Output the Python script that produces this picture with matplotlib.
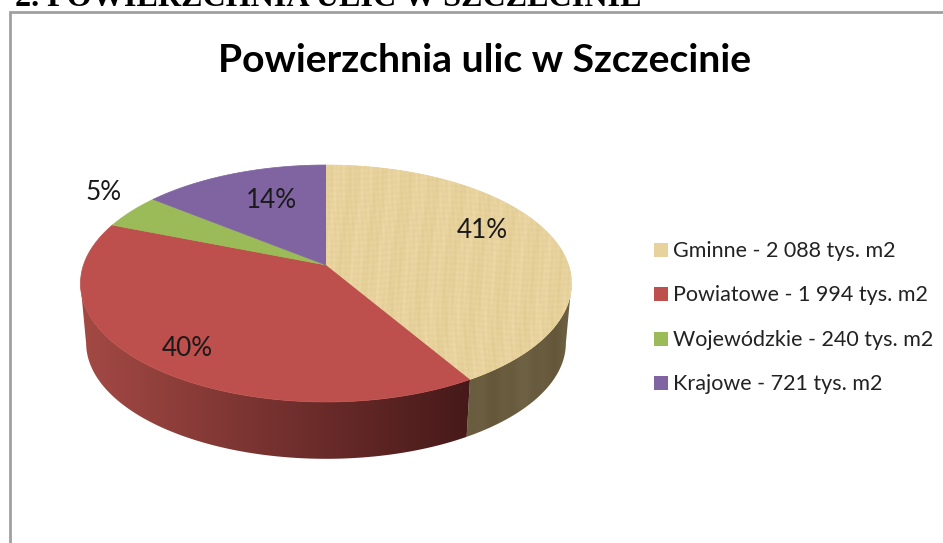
import numpy as np
import matplotlib
matplotlib.use("Agg")
from matplotlib import pyplot as plt
from matplotlib.patches import Polygon, Rectangle

W, H = 943, 543

categories = ["Gminne", "Powiatowe", "Wojewódzkie", "Krajowe"]
values = [2088, 1994, 240, 721]  # tys. m2
value_labels = ["2 088", "1 994", "240", "721"]
percent_labels = ["41%", "40%", "5%", "14%"]
colors = ["#E7D19C", "#BD4F4C", "#9BBB59", "#8064A2"]

title = "Powierzchnia ulic w Szczecinie"
header = "2. POWIERZCHNIA ULIC W SZCZECINIE"

# pie geometry in image pixels, perspective squeezes the far side
CX, CY = 326, 265
A, B, K = 242.5, 115.6, 0.156
DEPTH, SHRINK = 60, 0.977


def project(theta, scale=1.0, dy=0.0):
    # theta is clockwise from the top of the pie
    u, v = np.sin(theta), np.cos(theta)
    d = 1 + K * v
    return CX + scale * A * u / d, CY + dy - scale * B * v / d


def wall_shade(cat, x):
    # colour of the side wall at image column x
    if cat == 0:
        base = np.array([106, 92, 62])[None, :] + (3 * np.sin(x / 9.0) + 2 * np.sin(x / 3.3))[:, None]
        return np.clip(base, 0, 255) / 255
    left = np.array([163, 73, 68])
    right = np.array([70, 25, 25])
    t = np.clip((x - 85) / 385, 0, 1)[:, None]
    return (left + (right - left) * t) / 255


fig = plt.figure(figsize=(W / 100, H / 100), dpi=100)
ax = fig.add_axes([0, 0, 1, 1])
ax.set_xlim(0, W)
ax.set_ylim(H, 0)
ax.axis("off")

# outer chart frame
ax.add_patch(Rectangle((9.5, 12), W + 20, H + 20, fc="white", ec="#A0A0A0", lw=2))
ax.text(15, 6, header, family="Liberation Serif", weight="bold", fontsize=23.1,
        color="black", ha="left", va="baseline")

edges = 2 * np.pi * np.concatenate([[0], np.cumsum(values)]) / np.sum(values)

# side wall: a horizontal gradient clipped to the visible part of each slice
# cos(theta) = -K is where the projected rim is widest, so the wall edge is tangent there
for i in range(2):
    th = np.linspace(edges[i], edges[i + 1], 400)
    th = th[np.cos(th) < -K]
    xt, yt = project(th)
    xb, yb = project(th, SHRINK, DEPTH)
    pts = np.column_stack([np.r_[xt, xb[::-1]], np.r_[yt, yb[::-1]]])
    wall = Polygon(pts, closed=True, fc="none", ec="none", transform=ax.transData)
    ax.add_patch(wall)
    xs = np.arange(70, 580)
    grad = wall_shade(i, xs + 0.5)[None, :, :]
    im = ax.imshow(grad, extent=(70, 580, 470, 270), aspect="auto", zorder=2, interpolation="bilinear")
    im.set_clip_path(wall)

# top face
faces = []
for i in range(len(values)):
    th = np.linspace(edges[i], edges[i + 1], 200)
    x, y = project(th)
    pts = np.column_stack([np.r_[CX, x], np.r_[CY, y]])
    face = Polygon(pts, closed=True, fc=colors[i], ec=colors[i], lw=0.5, zorder=3)
    ax.add_patch(face)
    faces.append(face)

# papyrus look on the Gminne slice, fine woven fibres
gx, gy = np.meshgrid(np.arange(320, 580), np.arange(160, 390))
grain = (np.sin(gx * 1.37 + np.sin(gy / 23.0) * 3) * 0.35
         + np.sin(gx * 0.71 + np.sin(gy / 37.0) * 4) * 0.35
         + np.sin(gy * 1.13 + np.sin(gx / 31.0) * 3) * 0.3
         + np.sin(gx * 0.23 + gy * 0.03) * 0.4)
papyrus = np.array([231, 210, 157])[None, None, :] + (grain * 5)[:, :, None] * np.array([1, 1, 1.6])
im = ax.imshow(np.clip(papyrus, 0, 255) / 255, extent=(320, 580, 390, 160), zorder=4,
               aspect="auto", interpolation="bilinear")
im.set_clip_path(faces[0])
ax.set_xlim(0, W)
ax.set_ylim(H, 0)

ax.text(482, 231, percent_labels[0], family="Lato", fontsize=18.8, ha="center", va="center", color="#1A1A1A", zorder=6)
ax.text(187, 349, percent_labels[1], family="Lato", fontsize=18.8, ha="center", va="center", color="#1A1A1A", zorder=6)
ax.text(103.5, 193, percent_labels[2], family="Lato", fontsize=18.8, ha="center", va="center", color="#1A1A1A", zorder=6)
ax.text(271, 201, percent_labels[3], family="Lato", fontsize=18.8, ha="center", va="center", color="#1A1A1A", zorder=6)

ax.text(485, 61, title, family="Lato", weight="bold", fontsize=28.2, ha="center", va="center", color="black", zorder=6)

# legend
leg_y = [250, 294, 339, 383]
for i, name in enumerate(categories):
    ax.add_patch(Rectangle((654, leg_y[i] - 7), 14, 14, fc=colors[i], ec="none", zorder=5))
    ax.text(673, leg_y[i] + 1, f"{name} - {value_labels[i]} tys. m2", family="Lato",
            fontsize=15.5, ha="left", va="center", color="#222222", zorder=6)

fig.savefig("out.png", dpi=100)
